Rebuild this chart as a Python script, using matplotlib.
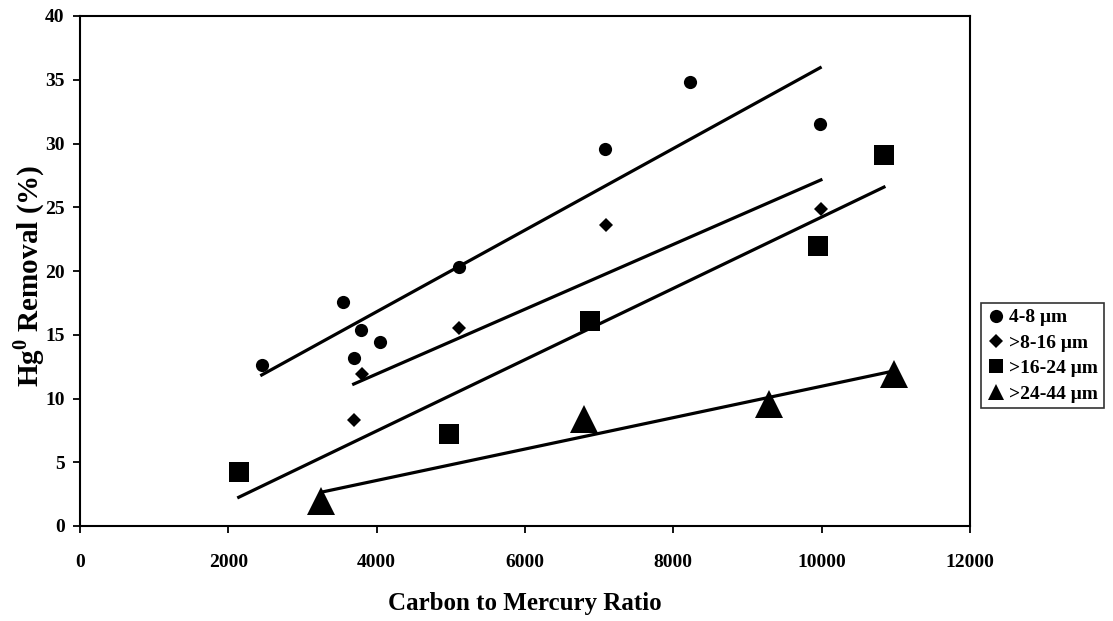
import numpy as np
import matplotlib
matplotlib.use('Agg')
import matplotlib.pyplot as plt
from matplotlib.lines import Line2D

# data
c48_x = [2450, 3550, 3790, 4050, 3690, 5110, 7080, 8220, 9980]
c48_y = [12.6, 17.6, 15.4, 14.4, 13.2, 20.3, 29.6, 34.8, 31.5]

c816_x = [3690, 3800, 5110, 7090, 9990]
c816_y = [8.3, 11.9, 15.5, 23.6, 24.9]

c1624_x = [2140, 4980, 6870, 9950, 10840]
c1624_y = [4.2, 7.2, 16.1, 22.0, 29.1]

c2444_x = [3250, 6790, 9290, 10970]
c2444_y = [2.0, 8.4, 9.6, 11.9]

labels = ['4-8 \u03bcm', '>8-16 \u03bcm', '>16-24 \u03bcm', '>24-44 \u03bcm']

plt.rcParams['font.family'] = ['Liberation Serif', 'DejaVu Serif']
plt.rcParams['font.weight'] = 'bold'
plt.rcParams['mathtext.fontset'] = 'custom'
plt.rcParams['mathtext.rm'] = 'Liberation Serif:bold'
plt.rcParams['mathtext.bf'] = 'Liberation Serif:bold'

fig = plt.figure(figsize=(11.13, 6.21), dpi=100)
ax = fig.add_axes([80/1113, 1-526/621, 890/1113, 510/621])

series = [
    (c48_x, c48_y, 'o', 9.5),
    (c816_x, c816_y, 'D', 7.5),
    (c1624_x, c1624_y, 's', 14.0),
    (c2444_x, c2444_y, '^', 20.0),
]

for xs, ys, mk, ms in series:
    xs = np.array(xs, dtype=float)
    ys = np.array(ys, dtype=float)
    ax.plot(xs, ys, linestyle='none', marker=mk, markersize=ms,
            color='black', markeredgewidth=0, zorder=3)
    # linear trendline over the range of the series
    k, b = np.polyfit(xs, ys, 1)
    xl = np.array([xs.min(), xs.max()])
    ax.plot(xl, k*xl + b, color='black', linewidth=2.3, zorder=2)

ax.set_xlim(0, 12000)
ax.set_ylim(0, 40)
ax.set_xticks(np.arange(0, 12001, 2000))
ax.set_yticks(np.arange(0, 41, 5))
ax.tick_params(axis='both', direction='out', length=5, width=1.3,
               labelsize=14, colors='black')
ax.tick_params(axis='x', pad=15)
ax.tick_params(axis='y', pad=6)
for s in ax.spines.values():
    s.set_linewidth(1.5)

ax.set_xlabel('Carbon to Mercury Ratio', fontsize=18, fontweight='bold')
ax.xaxis.set_label_coords(0.5, -0.13)
ax.set_ylabel(r'Hg$^{0}$ Removal (%)', fontsize=21, fontweight='bold')
ax.yaxis.set_label_coords(-0.037, 0.49)

handles = [Line2D([], [], linestyle='none', marker=m, color='black',
                  markersize=s, markeredgewidth=0)
           for m, s in [('o', 9.5), ('D', 7.5), ('s', 9.5), ('^', 11)]]
leg = fig.legend(handles, labels, loc='upper left',
                 bbox_to_anchor=(981/1113, 1-303/621),
                 fontsize=14, frameon=True, fancybox=False,
                 handlelength=0.9, handletextpad=0.25, borderpad=0.3,
                 labelspacing=0.4, borderaxespad=0)
leg.get_frame().set_edgecolor('black')
leg.get_frame().set_linewidth(1.2)

fig.savefig('out.png', dpi=100)
